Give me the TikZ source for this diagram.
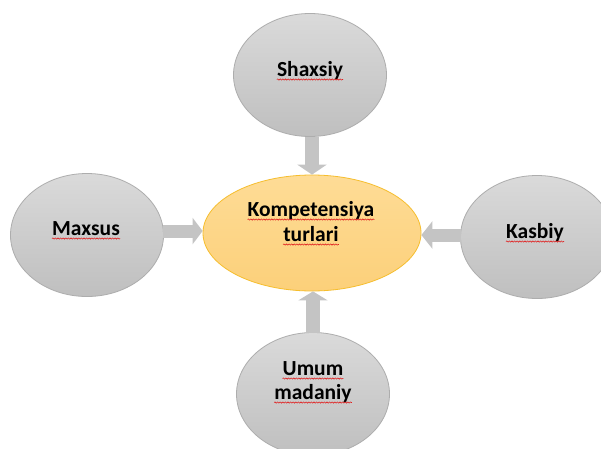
\documentclass[tikz,border=0pt]{standalone}
\usepackage{fontspec}
\setmainfont{Carlito}
\usetikzlibrary{shapes.geometric,arrows.meta,calc,decorations.pathmorphing}
\definecolor{gtop}{HTML}{DADADA}
\definecolor{gbot}{HTML}{BFBFBF}
\definecolor{gline}{HTML}{ADADAD}
\definecolor{otop}{HTML}{FEDC96}
\definecolor{obot}{HTML}{FCD07A}
\definecolor{oline}{HTML}{F6BE2E}
\definecolor{arrowgray}{HTML}{C4C4C4}
\definecolor{spellred}{HTML}{E02020}
\tikzset{
  bubble/.style={ellipse, draw=gline, line width=0.8pt, top color=gtop, bottom color=gbot,
    minimum width=153pt, minimum height=123pt, inner sep=0pt},
  hub/.style={ellipse, draw=oline, line width=0.8pt, top color=otop, bottom color=obot,
    minimum width=218pt, minimum height=116pt, inner sep=0pt},
  txt/.style={inner sep=0pt, anchor=base, font=\fontsize{21.5}{25}\selectfont\bfseries, text=black},
  blk/.style={draw=arrowgray, fill=arrowgray, line width=#1},
  wavy/.style={spellred, line width=0.6pt, decorate,
    decoration={snake, amplitude=0.6pt, segment length=2.6pt}}
}
\newcommand{\spell}[1]{\draw[wavy] ($(#1.base west)+(0,3.5)$) -- ($(#1.base east)+(0,3.5)$);}
\begin{document}
\begin{tikzpicture}[x=1pt,y=-1pt]
\useasboundingbox (0,0) rectangle (601,448);
\fill[white] (0,0) rectangle (601,448);
\node[bubble] (shaxsiy) at (310,75) {};
\node[bubble] (maxsus) at (87,235) {};
\node[bubble] (kasbiy) at (537,237) {};
\node[bubble] (umum) at (313,394) {};
\node[hub] (hub) at (312,233) {};
% arrow start points
\coordinate (ls) at ($(maxsus.east)+(-1,-4)$);
\coordinate (rs) at ($(kasbiy.west)+(1,-2)$);
\coordinate (bs) at ($(umum.north)+(0,1)$);
% arrows
\draw[blk=14pt, -{Triangle[width=29pt,length=10pt]}] (hub.north |- shaxsiy.south) -- (hub.north);
\draw[blk=13pt, -{Triangle[width=26pt,length=10pt]}] (ls) -- (ls -| hub.west);
\draw[blk=13pt, -{Triangle[width=27pt,length=11pt]}] (rs) -- (rs -| hub.east);
\draw[blk=14pt, -{Triangle[width=29pt,length=9pt]}] (bs) -- (bs |- hub.south);
% texts
\node[txt] (t1) at ($(shaxsiy.center)+(0,1)$) {Shaxsiy};
\node[txt] (t2) at ($(hub.center)+(-1,-17)$) {Kompetensiya};
\node[txt] (t3) at ($(hub.center)+(-1,8)$) {turlari};
\node[txt] (t4) at ($(maxsus.center)+(-1,0)$) {Maxsus};
\node[txt] (t5) at ($(kasbiy.center)+(-2,1)$) {Kasbiy};
\node[txt] (t6) at ($(umum.center)+(0,-19)$) {Umum};
\node[txt] (t7) at ($(umum.center)+(0,5)$) {madaniy};
\foreach \t in {t1,t2,t3,t4,t5,t6,t7} {\spell{\t}}
\end{tikzpicture}
\end{document}
